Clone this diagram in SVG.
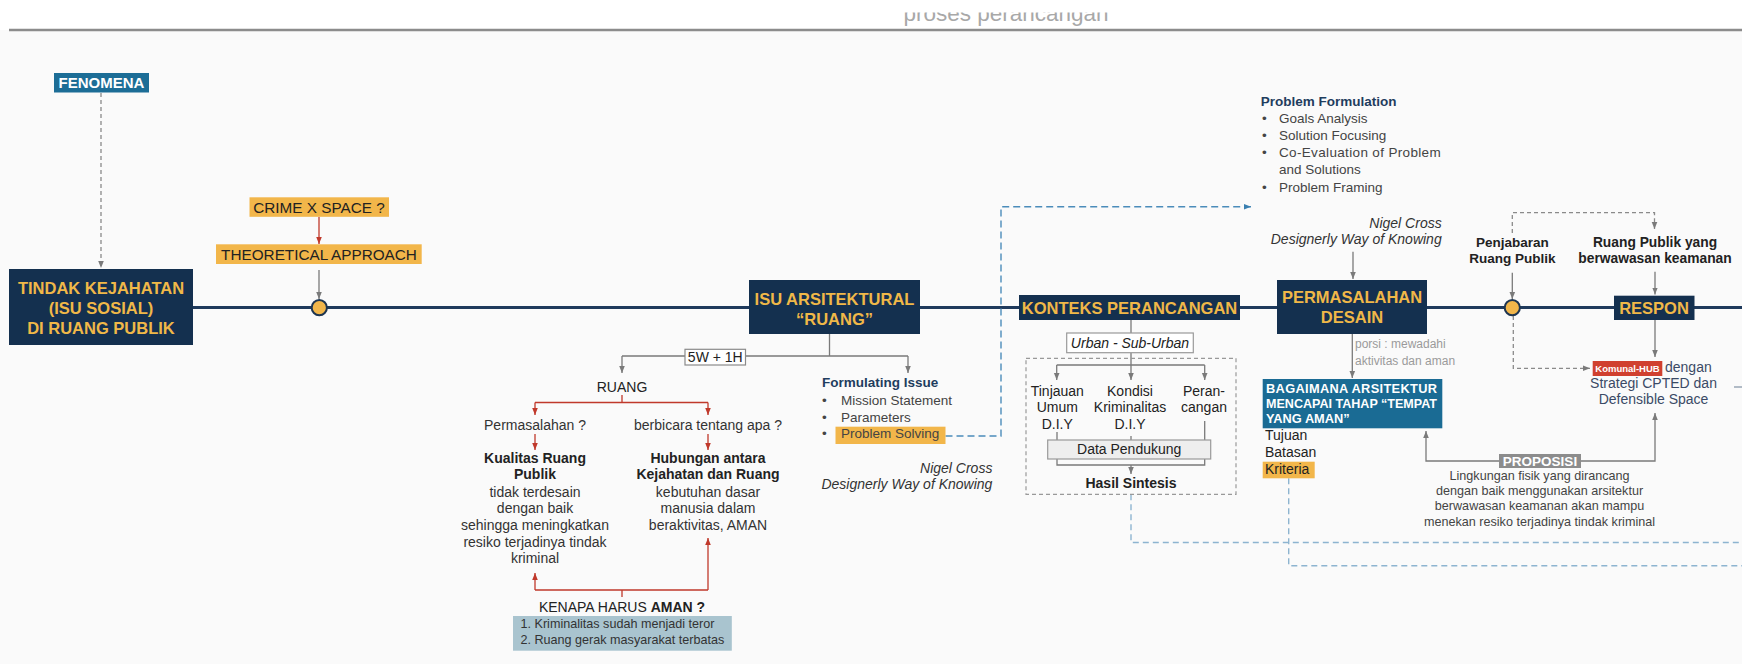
<svg xmlns="http://www.w3.org/2000/svg" width="1742" height="664" viewBox="0 0 1742 664">
<style>
text{font-family:"Liberation Sans",Arial,sans-serif}
.nav{fill:#14304f}
.navt{font-weight:bold;font-size:16.5px;fill:#f0b848;text-anchor:middle}
.gold{fill:#f2b64a}
.gl{stroke:#7a7a7a;stroke-width:1.3;fill:none}
.gd{stroke:#8a8a8a;stroke-width:1.3;fill:none;stroke-dasharray:4 3}
.rl{stroke:#c0392b;stroke-width:1.3;fill:none}
.bd{stroke:#4b8cba;stroke-width:1.4;fill:none;stroke-dasharray:7 4}
.lbd{stroke:#8db4d0;stroke-width:1.4;fill:none;stroke-dasharray:6 4}
.t{font-size:14px;fill:#333}
.c{text-anchor:middle}
.r{text-anchor:end}
.b{font-weight:bold}
.it{font-style:italic}
.dk{fill:#222}
.ttl{font-weight:bold;font-size:13.5px;fill:#1f3d5e}
.li{font-size:13.5px;fill:#444}
</style>
<defs>
<marker id="ag" viewBox="0 0 10 10" refX="10" refY="5" markerWidth="7" markerHeight="7" markerUnits="userSpaceOnUse" orient="auto"><path d="M0,1 L10,5 L0,9 z" fill="#7a7a7a"/></marker>
<marker id="ar" viewBox="0 0 10 10" refX="10" refY="5" markerWidth="7" markerHeight="7" markerUnits="userSpaceOnUse" orient="auto"><path d="M0,1 L10,5 L0,9 z" fill="#c0392b"/></marker>
<marker id="ab" viewBox="0 0 10 10" refX="10" refY="5" markerWidth="7" markerHeight="7" markerUnits="userSpaceOnUse" orient="auto"><path d="M0,1 L10,5 L0,9 z" fill="#3a7fb0"/></marker>
<clipPath id="hc"><rect x="0" y="12.5" width="1742" height="18"/></clipPath>
</defs>
<rect x="0" y="0" width="1742" height="664" fill="#fafafa"/>
<rect x="0" y="0" width="1742" height="30" fill="#ffffff"/>
<text x="1006" y="20.5" font-size="22.5" fill="#a8a8a8" text-anchor="middle" clip-path="url(#hc)">proses perancangan</text>
<line x1="9" y1="30" x2="1742" y2="30" stroke="#8c8c8c" stroke-width="2.5"/>

<g id="connectors">
<line x1="193" y1="307.5" x2="1742" y2="307.5" stroke="#1f3a5c" stroke-width="3"/>
<path class="gd" d="M101,93 V268" marker-end="url(#ag)"/>
<path class="rl" d="M319,217 V244" marker-end="url(#ar)"/>
<path class="gl" d="M319,270 V299" marker-end="url(#ag)"/>
<path class="gl" d="M829.5,334 V356 M622,356 H685 M745.5,356 H908"/>
<path class="gl" d="M622,356 V373" marker-end="url(#ag)"/>
<path class="gl" d="M908,356 V373" marker-end="url(#ag)"/>
<path class="rl" d="M622,395 V402.5 M535,402.5 H708"/>
<path class="rl" d="M535,402.5 V415" marker-end="url(#ar)"/>
<path class="rl" d="M708,402.5 V415" marker-end="url(#ar)"/>
<path class="rl" d="M535,434 V450" marker-end="url(#ar)"/>
<path class="rl" d="M708,434 V450" marker-end="url(#ar)"/>
<path class="rl" d="M622,597 V590 M535,590 H708"/>
<path class="rl" d="M535,590 V573" marker-end="url(#ar)"/>
<path class="rl" d="M708,590 V538" marker-end="url(#ar)"/>
<path class="bd" d="M945.5,436 H1001 V206.7 H1251" marker-end="url(#ab)"/>
<path class="gl" d="M1131,320 V333"/>
<path class="gl" d="M1131,352.7 V365 M1056.7,365 H1204.7"/>
<path class="gl" d="M1056.7,365 V380" marker-end="url(#ag)"/>
<path class="gl" d="M1131,365 V380" marker-end="url(#ag)"/>
<path class="gl" d="M1204.7,365 V380" marker-end="url(#ag)"/>
<path class="gl" d="M1057,432 V465 H1204.7 V421 M1131,436 V440"/>
<path class="gl" d="M1131,465 V474" marker-end="url(#ag)"/>
<path class="lbd" d="M1131,494.3 V542.5 H1742"/>
<path class="lbd" d="M1288.7,478.3 V565.7 H1742"/>
<path class="gl" d="M1353,251.7 V279" marker-end="url(#ag)"/>
<path class="gl" d="M1352.3,334 V378" marker-end="url(#ag)"/>
<path class="gl" d="M1499,461 H1426 V431" marker-end="url(#ag)"/>
<path class="gl" d="M1581,461 H1655 V413" marker-end="url(#ag)"/>
<path class="gl" d="M1512.3,272.7 V299" marker-end="url(#ag)"/>
<path class="gl" d="M1655,271.7 V294.5" marker-end="url(#ag)"/>
<path class="gd" d="M1512.3,233 V212.7 H1654.5 V229" marker-end="url(#ag)"/>
<path class="gd" d="M1513.3,316 V368.3 H1590" marker-end="url(#ag)"/>
<path class="gl" d="M1655,320 V357" marker-end="url(#ag)"/>
<line x1="1734" y1="387" x2="1742" y2="387" stroke="#8a9aaa" stroke-width="1.3"/>
</g>

<g id="fenomena">
<rect x="54" y="73" width="95" height="19.5" fill="#1c6d96"/>
<text x="101.5" y="88" font-size="15" font-weight="bold" fill="#fff" text-anchor="middle">FENOMENA</text>
</g>

<g id="tindak-kejahatan">
<rect class="nav" x="9" y="269" width="184" height="76"/>
<text class="navt" x="101" y="293.5">TINDAK KEJAHATAN</text>
<text class="navt" x="101" y="313.5">(ISU SOSIAL)</text>
<text class="navt" x="101" y="333.5">DI RUANG PUBLIK</text>
</g>

<g id="crime-space">
<rect class="gold" x="249.5" y="197.3" width="139.5" height="19.5"/>
<text x="319" y="212.5" font-size="15.3" fill="#222" text-anchor="middle">CRIME X SPACE ?</text>
</g>
<g id="theoretical">
<rect class="gold" x="216" y="244.3" width="205.7" height="19.7"/>
<text x="319" y="259.5" font-size="15.3" fill="#222" text-anchor="middle">THEORETICAL APPROACH</text>
</g>
<g id="node-circle-1"><circle cx="319.3" cy="307.7" r="7.6" fill="#f2b64a" stroke="#1e3550" stroke-width="2"/></g>

<g id="isu-arsitektural">
<rect class="nav" x="749" y="280" width="171" height="54"/>
<text class="navt" x="834.5" y="304.5">ISU ARSITEKTURAL</text>
<text class="navt" x="834.5" y="324.5">“RUANG”</text>
</g>

<g id="fiveW">
<rect x="685" y="349.3" width="60.5" height="15.7" fill="#fff" stroke="#8a8a8a" stroke-width="1.2"/>
<text class="t c dk" x="715.3" y="362">5W + 1H</text>
</g>

<g id="ruang">
<text class="t c dk" x="622" y="391.7">RUANG</text>
<text class="t c" x="535" y="430">Permasalahan ?</text>
<text class="t c" x="708" y="429.5">berbicara tentang apa ?</text>
</g>

<g id="kualitas">
<text class="t c b dk" x="535" y="462.7">Kualitas Ruang</text>
<text class="t c b dk" x="535" y="479.3">Publik</text>
<text class="t c" x="535" y="496.7">tidak terdesain</text>
<text class="t c" x="535" y="513.3">dengan baik</text>
<text class="t c" x="535" y="530">sehingga meningkatkan</text>
<text class="t c" x="535" y="546.7">resiko terjadinya tindak</text>
<text class="t c" x="535" y="563.3">kriminal</text>
</g>

<g id="hubungan">
<text class="t c b dk" x="708" y="462.7">Hubungan antara</text>
<text class="t c b dk" x="708" y="479.3">Kejahatan dan Ruang</text>
<text class="t c" x="708" y="496.7">kebutuhan dasar</text>
<text class="t c" x="708" y="513.3">manusia dalam</text>
<text class="t c" x="708" y="530">beraktivitas, AMAN</text>
</g>

<g id="kenapa-aman">
<text class="t c dk" x="622" y="611.7">KENAPA HARUS <tspan font-weight="bold">AMAN ?</tspan></text>
<rect x="513" y="616" width="218.8" height="34.7" fill="#a9c4cf"/>
<text x="520.5" y="627.7" font-size="12.6" fill="#333">1. Kriminalitas sudah menjadi teror</text>
<text x="520.5" y="644" font-size="12.6" fill="#333">2. Ruang gerak masyarakat terbatas</text>
</g>

<g id="formulating-issue">
<text class="ttl" x="822" y="387.3">Formulating Issue</text>
<text class="li" x="822" y="405">•</text>
<text class="li" x="841" y="405">Mission Statement</text>
<text class="li" x="822" y="421.7">•</text>
<text class="li" x="841" y="421.7">Parameters</text>
<rect class="gold" x="835.5" y="426.7" width="110" height="17.3"/>
<text class="li" x="822" y="438.3">•</text>
<text class="li" x="841" y="438.3" fill="#333">Problem Solving</text>
</g>

<g id="nigel-cross-1">
<text class="t r it" x="992.4" y="472.7">Nigel Cross</text>
<text class="t r it" x="992.4" y="489.3">Designerly Way of Knowing</text>
</g>

<g id="problem-formulation">
<text class="ttl" x="1260.7" y="106">Problem Formulation</text>
<text class="li" x="1262" y="122.7">•</text>
<text class="li" x="1279" y="122.7">Goals Analysis</text>
<text class="li" x="1262" y="140">•</text>
<text class="li" x="1279" y="140">Solution Focusing</text>
<text class="li" x="1262" y="157.3">•</text>
<text class="li" x="1279" y="157.3" textLength="161.7" lengthAdjust="spacing">Co-Evaluation of Problem</text>
<text class="li" x="1279" y="174.3">and Solutions</text>
<text class="li" x="1262" y="191.7">•</text>
<text class="li" x="1279" y="191.7">Problem Framing</text>
</g>

<g id="konteks-perancangan">
<rect class="nav" x="1019" y="295" width="221" height="25"/>
<text class="navt" x="1129.5" y="314">KONTEKS PERANCANGAN</text>
</g>

<g id="urban">
<rect x="1066.7" y="333" width="126.6" height="19.7" fill="#fff" stroke="#999" stroke-width="1.2"/>
<text class="t c it dk" x="1130" y="347.5">Urban - Sub-Urban</text>
</g>

<g id="konteks-detail">
<rect x="1026" y="358.3" width="210" height="136" fill="none" stroke="#999" stroke-width="1.2" stroke-dasharray="4 3"/>
<text class="t c dk" x="1057.3" y="395.5">Tinjauan</text>
<text class="t c dk" x="1057.3" y="412.3">Umum</text>
<text class="t c dk" x="1057.3" y="429">D.I.Y</text>
<text class="t c dk" x="1130" y="395.5">Kondisi</text>
<text class="t c dk" x="1130" y="412.3">Kriminalitas</text>
<text class="t c dk" x="1130" y="429">D.I.Y</text>
<text class="t c dk" x="1204" y="395.5">Peran-</text>
<text class="t c dk" x="1204" y="412.3">cangan</text>
</g>

<g id="data-pendukung">
<rect x="1047.7" y="440" width="163" height="19" fill="#eeeeee" stroke="#999" stroke-width="1.2"/>
<text class="t c dk" x="1129.2" y="454">Data Pendukung</text>
</g>

<g id="hasil-sintesis">
<text class="t c b dk" x="1131" y="487.5" font-size="13.5">Hasil Sintesis</text>
</g>

<g id="nigel-cross-2">
<text class="t r it" x="1441.7" y="228">Nigel Cross</text>
<text class="t r it" x="1441.7" y="244.3">Designerly Way of Knowing</text>
</g>

<g id="permasalahan-desain">
<rect class="nav" x="1277" y="280" width="150" height="54"/>
<text class="navt" x="1352" y="303">PERMASALAHAN</text>
<text class="navt" x="1352" y="323">DESAIN</text>
</g>

<g id="porsi">
<text x="1355" y="348.3" font-size="12" fill="#9a9a9a">porsi : mewadahi</text>
<text x="1355" y="365" font-size="12" fill="#9a9a9a">aktivitas dan aman</text>
</g>

<g id="bagaimana">
<rect x="1262.7" y="379" width="179.6" height="49.3" fill="#1a6b94"/>
<text x="1266" y="393" font-size="12.8" font-weight="bold" fill="#fff" textLength="171" lengthAdjust="spacing">BAGAIMANA ARSITEKTUR</text>
<text x="1266" y="408" font-size="12.8" font-weight="bold" fill="#fff" textLength="171" lengthAdjust="spacingAndGlyphs">MENCAPAI TAHAP “TEMPAT</text>
<text x="1266" y="423" font-size="12.8" font-weight="bold" fill="#fff">YANG AMAN”</text>
</g>

<g id="tujuan">
<text class="t dk" x="1265" y="440">Tujuan</text>
<text class="t dk" x="1265" y="456.7">Batasan</text>
<rect class="gold" x="1262.7" y="461.7" width="52" height="16.6"/>
<text class="t dk" x="1265" y="473.5">Kriteria</text>
</g>

<g id="proposisi">
<rect x="1499" y="454" width="82" height="14" fill="#8c8c8c"/>
<text x="1540" y="466" font-size="13.5" font-weight="bold" fill="#fff" text-anchor="middle">PROPOSISI</text>
<text x="1539.5" y="479.5" font-size="12.6" fill="#444" text-anchor="middle">Lingkungan fisik yang dirancang</text>
<text x="1539.5" y="494.8" font-size="12.6" fill="#444" text-anchor="middle">dengan baik menggunakan arsitektur</text>
<text x="1539.5" y="510.2" font-size="12.6" fill="#444" text-anchor="middle">berwawasan keamanan akan mampu</text>
<text x="1539.5" y="525.5" font-size="12.6" fill="#444" text-anchor="middle">menekan resiko terjadinya tindak kriminal</text>
</g>

<g id="node-circle-2"><circle cx="1512.3" cy="307.7" r="7.6" fill="#f2b64a" stroke="#1e3550" stroke-width="2"/></g>

<g id="penjabaran">
<text class="c b dk" x="1512.3" y="246.7" font-size="13.5">Penjabaran</text>
<text class="c b dk" x="1512.3" y="262.5" font-size="13.5">Ruang Publik</text>
</g>

<g id="ruang-publik-aman">
<text class="c b dk" x="1655" y="246.7" font-size="13.8">Ruang Publik yang</text>
<text class="c b dk" x="1655" y="263" font-size="13.8">berwawasan keamanan</text>
</g>

<g id="respon">
<rect class="nav" x="1614" y="295.7" width="80.5" height="24.3"/>
<text class="navt" x="1654" y="314" font-size="17">RESPON</text>
</g>

<g id="komunal-hub">
<rect x="1592.7" y="361" width="69.6" height="15" fill="#d0402f"/>
<text x="1627.5" y="372.2" font-size="9.5" font-weight="bold" fill="#fff" text-anchor="middle">Komunal-HUB</text>
<text x="1665" y="372" font-size="14" fill="#3b4a66">dengan</text>
<text x="1653.5" y="388" font-size="14" fill="#3b4a66" text-anchor="middle">Strategi CPTED dan</text>
<text x="1653.5" y="404.3" font-size="14" fill="#3b4a66" text-anchor="middle">Defensible Space</text>
</g>
</svg>
